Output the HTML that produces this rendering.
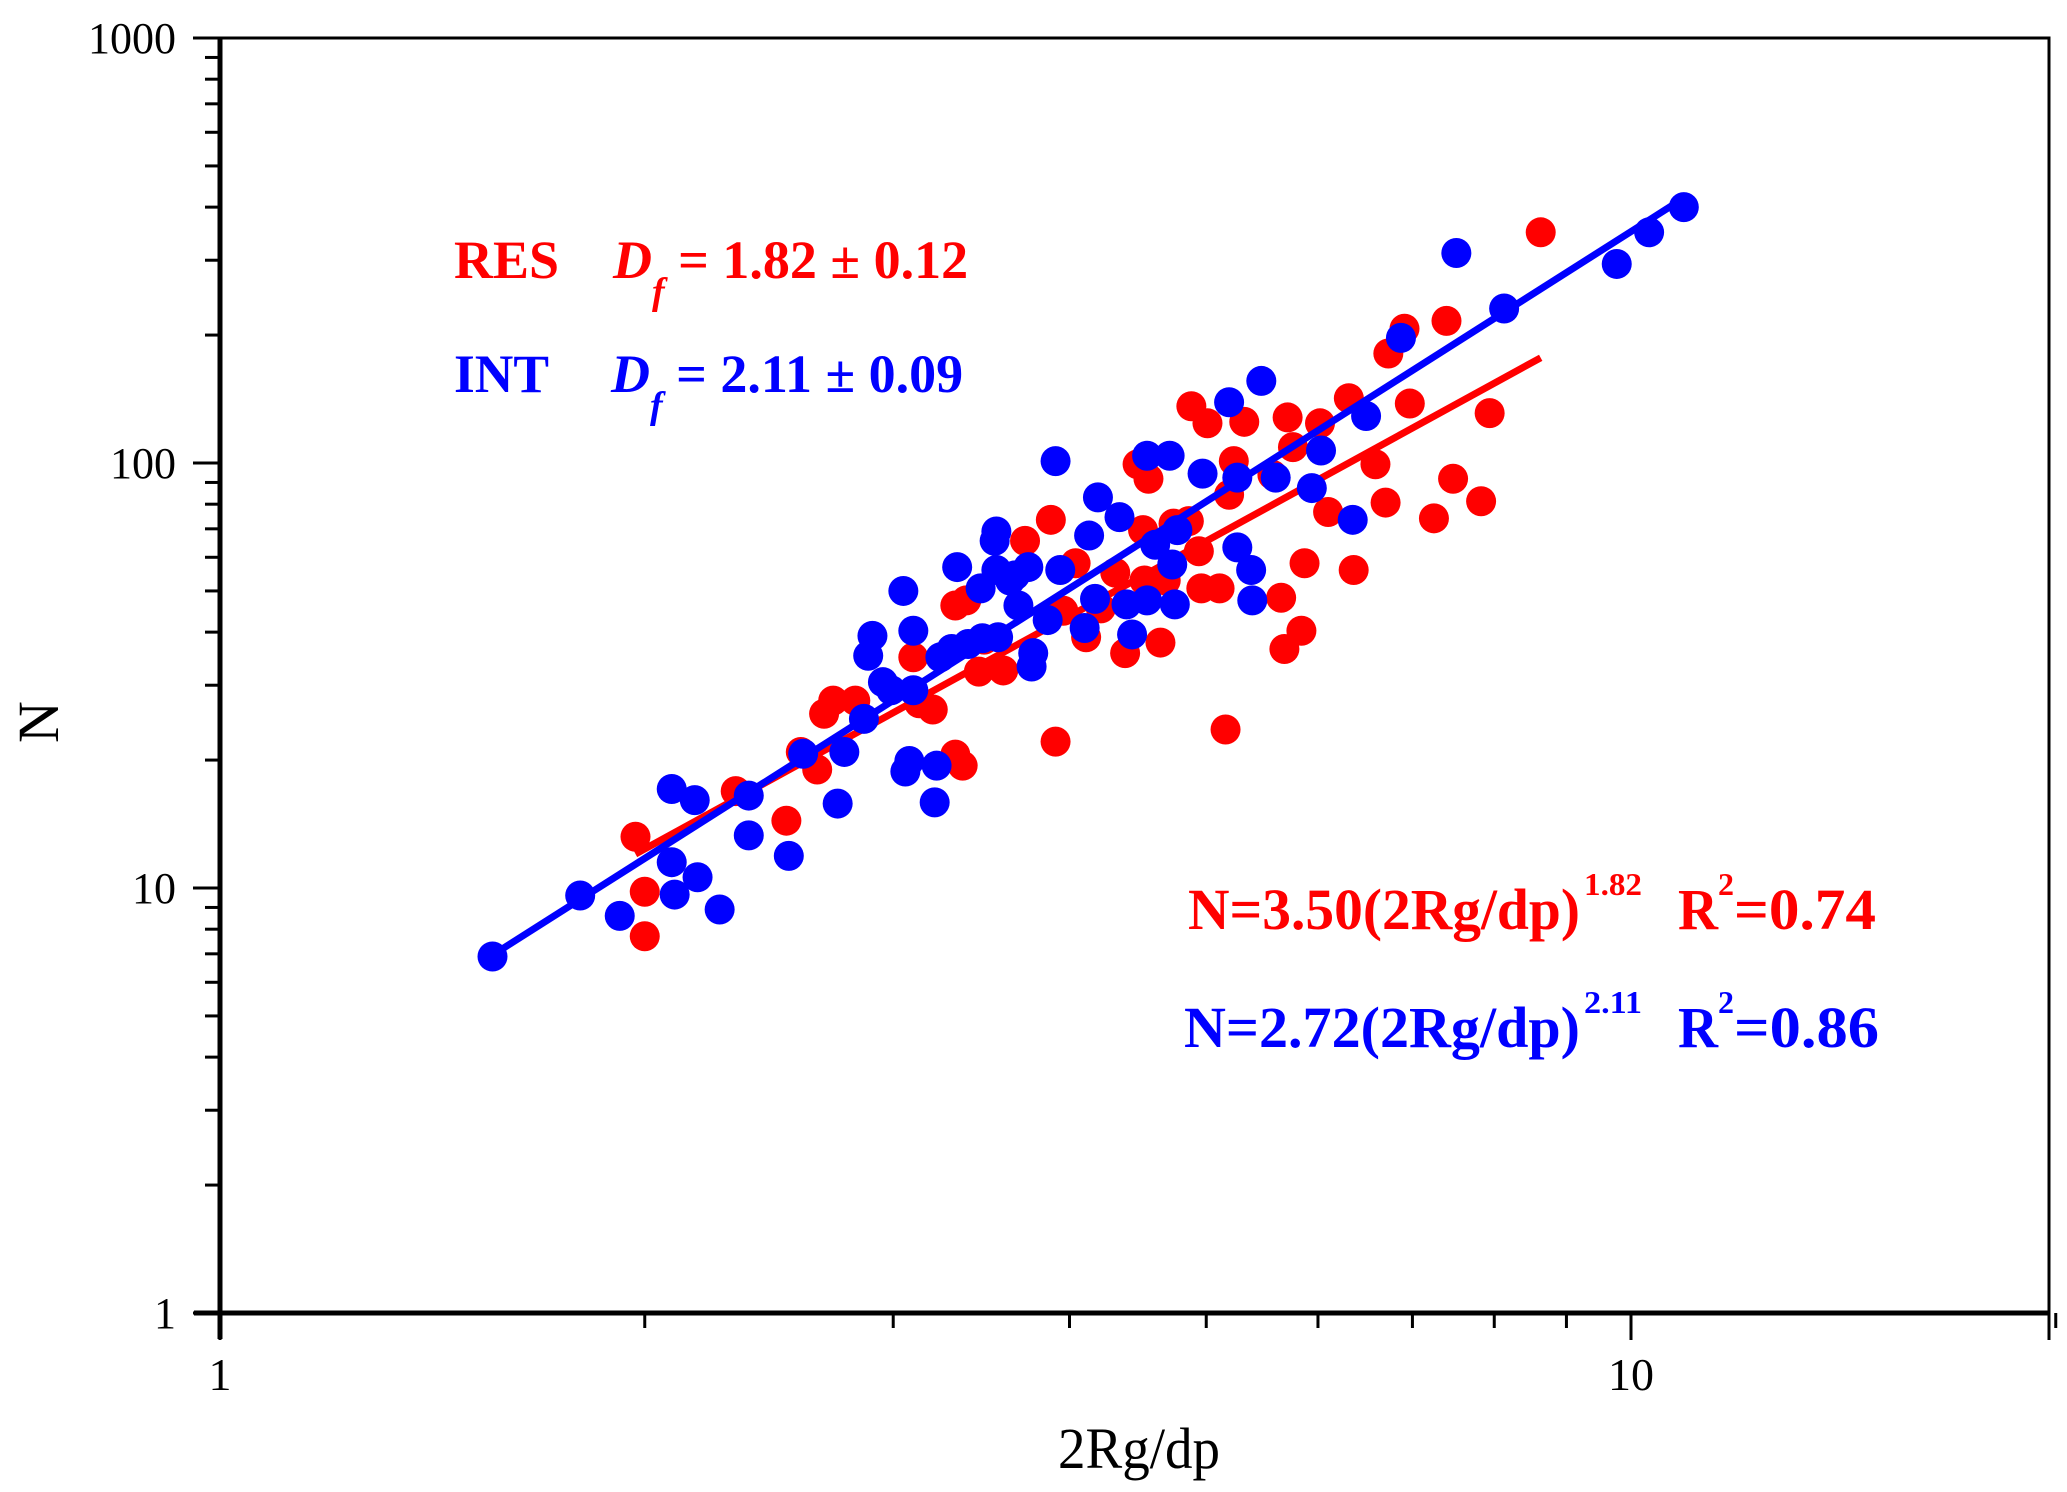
<!DOCTYPE html>
<html><head><meta charset="utf-8"><style>
html,body{margin:0;padding:0;background:#fff}
svg{display:block}
text{font-family:"Liberation Serif",serif}
</style></head><body>
<svg id="chart" width="2067" height="1492" viewBox="0 0 2067 1492" xmlns="http://www.w3.org/2000/svg">
<rect x="0" y="0" width="2067" height="1492" fill="#fff"/>
<g id="marks"></g>
<g id="axes"></g>
<text x="454" y="278" font-size="54" font-weight="bold" fill="#ff0000" textLength="105" lengthAdjust="spacingAndGlyphs">RES</text>
<text x="613" y="278" font-size="54" font-weight="bold" fill="#ff0000"><tspan font-style="italic">D</tspan><tspan font-style="italic" font-size="38" dy="26">f</tspan><tspan dy="-26"> = 1.82 ± 0.12</tspan></text>
<text x="454" y="392" font-size="54" font-weight="bold" fill="#0000ff" textLength="95" lengthAdjust="spacingAndGlyphs">INT</text>
<text x="611" y="392" font-size="54" font-weight="bold" fill="#0000ff"><tspan font-style="italic">D</tspan><tspan font-style="italic" font-size="38" dy="26">f</tspan><tspan dy="-26"> = 2.11 ± 0.09</tspan></text>
<text x="1188" y="929" font-size="58" font-weight="bold" fill="#ff0000"><tspan textLength="392" lengthAdjust="spacingAndGlyphs">N=3.50(2Rg/dp)</tspan><tspan font-size="32" dy="-34" dx="4" textLength="58" lengthAdjust="spacingAndGlyphs">1.82</tspan><tspan dy="34" dx="36" textLength="40" lengthAdjust="spacingAndGlyphs">R</tspan><tspan font-size="32" dy="-34">2</tspan><tspan dy="34" textLength="142" lengthAdjust="spacingAndGlyphs">=0.74</tspan></text>
<text x="1184" y="1047" font-size="58" font-weight="bold" fill="#0000ff"><tspan textLength="396" lengthAdjust="spacingAndGlyphs">N=2.72(2Rg/dp)</tspan><tspan font-size="32" dy="-34" dx="4" textLength="58" lengthAdjust="spacingAndGlyphs">2.11</tspan><tspan dy="34" dx="36" textLength="40" lengthAdjust="spacingAndGlyphs">R</tspan><tspan font-size="32" dy="-34">2</tspan><tspan dy="34" textLength="145" lengthAdjust="spacingAndGlyphs">=0.86</tspan></text>
<text x="1139" y="1468" font-size="58" text-anchor="middle" textLength="162" lengthAdjust="spacingAndGlyphs">2Rg/dp</text>
<text transform="translate(58,722) rotate(-90)" font-size="58" text-anchor="middle">N</text>
</svg>
<script>
const resX=[1.97,2.00,2.00,2.32,2.52,2.58,2.65,2.68,2.72,2.82,3.10,3.13,3.20,3.32,3.36,3.32,3.38,3.45,3.48,3.59,3.72,3.88,3.91,3.96,4.04,4.11,4.21,4.31,4.38,4.47,4.51,4.55,4.64,4.74,4.86,4.88,4.94,4.96,5.01,5.11,5.16,5.19,5.23,5.32,5.65,5.68,5.71,5.76,5.84,5.87,6.02,6.10,6.31,6.36,6.59,6.70,6.73,6.91,6.97,7.25,7.40,7.48,7.83,7.94,8.63,4.52,4.68,5.57];
const resN=[13.2,9.8,7.7,16.9,14.4,20.9,19.0,25.7,27.6,27.6,34.9,27.2,26.3,20.6,19.4,46.2,47.5,32.3,38.4,32.5,65.6,73.5,22.1,44.9,58.1,38.9,45.5,55.2,35.7,99.3,69.5,91.8,37.8,72,73,136,62,50.7,124,50.7,23.6,84.2,101,125,48.2,36.5,128,109,40.3,58.1,124,76.7,142,56,99.3,80.7,181,207,138,74.1,216,91.8,81.3,131,349,52.9,52.9,93.8];
const intX=[1.56,1.80,1.92,2.09,2.09,2.10,2.17,2.18,2.26,2.37,2.37,2.53,2.59,2.74,2.77,2.86,2.90,2.88,2.95,2.99,3.05,3.06,3.08,3.10,3.10,3.21,3.22,3.24,3.30,3.33,3.39,3.46,3.47,3.54,3.55,3.55,3.56,3.63,3.66,3.68,3.74,3.76,3.77,3.86,3.91,3.94,4.10,4.13,4.17,4.19,4.34,4.39,4.43,4.54,4.54,4.60,4.71,4.73,4.75,4.77,4.97,5.19,5.26,5.26,5.38,5.39,5.47,5.60,5.94,6.03,6.35,6.49,6.87,7.52,8.13,9.77,10.3,10.9];
const intN=[6.9,9.6,8.6,17.1,11.5,9.65,16.1,10.6,8.9,16.5,13.3,11.9,20.7,15.8,20.9,25.0,39.2,35.2,30.5,29.2,50,18.8,19.9,40.3,29.2,15.9,19.4,34.9,36.5,56.9,37.5,50.7,38.7,65.6,69,56,38.9,52.9,54.4,46.2,56.9,33.2,35.7,42.7,101,56,40.9,67.5,47.9,83,74.6,46.5,39.5,47.5,104,64.2,104,57.7,46.5,69.5,94.4,139,63.3,92.4,56,47.5,156,92.4,87.3,107,73.5,129,197,312,231,294,349,400];
const resFit=[3.50,1.82];
const intFit=[2.72,2.11];
const resFitRange=[1.97,8.63];
const intFitRange=[1.56,10.9];
const xTickLabels=["1","10"];
const yTickLabels=["1","10","100","1000"];

const L=220,R=2049,T=38,B=1313;
const xMin=1,xMax=20,yMin=1,yMax=1000;
const XD=1411;
function sx(v){return L+(Math.log10(v)-Math.log10(xMin))*XD;}
function sy(v){return B-(Math.log10(v)-Math.log10(yMin))/(Math.log10(yMax)-Math.log10(yMin))*(B-T);}
const NS="http://www.w3.org/2000/svg";
const marks=document.getElementById('marks'),axes=document.getElementById('axes');
function mk(tag,attrs,parent){const e=document.createElementNS(NS,tag);for(const k in attrs)e.setAttribute(k,attrs[k]);parent.appendChild(e);return e;}

for(let i=0;i<resX.length;i++){
  const c=mk('circle',{cx:sx(resX[i]),cy:sy(resN[i]),r:15,fill:'#ff0000'},marks);
  
  
}
function fitLine(f,rng,color,name){
  const x0=rng[0],x1=rng[1];
  const l=mk('line',{x1:sx(x0),y1:sy(f[0]*Math.pow(x0,f[1])),x2:sx(x1),y2:sy(f[0]*Math.pow(x1,f[1])),stroke:color,'stroke-width':7},marks);
  
  
}
fitLine(resFit,resFitRange,'#ff0000','res-fit-line');
for(let i=0;i<intX.length;i++){
  const c=mk('circle',{cx:sx(intX[i]),cy:sy(intN[i]),r:15,fill:'#0000ff'},marks);
  
  
}
fitLine(intFit,intFitRange,'#0000ff','int-fit-line');

const fr=mk('rect',{x:L,y:T,width:R-L,height:B-T,fill:'none',stroke:'#000','stroke-width':3},axes);


const xa=mk('line',{x1:L-26,y1:B,x2:R,y2:B,stroke:'#000','stroke-width':5},axes);


const ya=mk('line',{x1:L,y1:T,x2:L,y2:B+26,stroke:'#000','stroke-width':5},axes);


for(let d=0;d<3;d++){
  for(let m=1;m<10;m++){
    const v=Math.pow(10,d)*m;const y=sy(v);
    const len=m===1?27:15;
    const t=mk('line',{x1:L-len,y1:y,x2:L,y2:y,stroke:'#000','stroke-width':3},axes);
    
    
  }
}
const tt=mk('line',{x1:L-27,y1:T,x2:L,y2:T,stroke:'#000','stroke-width':3},axes);


yTickLabels.forEach(s=>{
  const t=mk('text',{x:176,y:sy(+s)+15,'font-size':44,'text-anchor':'end'},axes);
  t.textContent=s;
  
  
});
for(let d=0;d<2;d++){
  for(let m=1;m<10;m++){
    const v=Math.pow(10,d)*m;if(v>xMax)break;const x=sx(v);
    const len=m===1?27:15;
    const t=mk('line',{x1:x,y1:B,x2:x,y2:B+len,stroke:'#000','stroke-width':3},axes);
    
    
  }
}
const xt=mk('line',{x1:R,y1:B,x2:R,y2:B+27,stroke:'#000','stroke-width':3},axes);


xTickLabels.forEach(s=>{
  const t=mk('text',{x:sx(+s),y:1390,'font-size':46,'text-anchor':'middle'},axes);
  t.textContent=s;
  
  
});
</script>
</body></html>
